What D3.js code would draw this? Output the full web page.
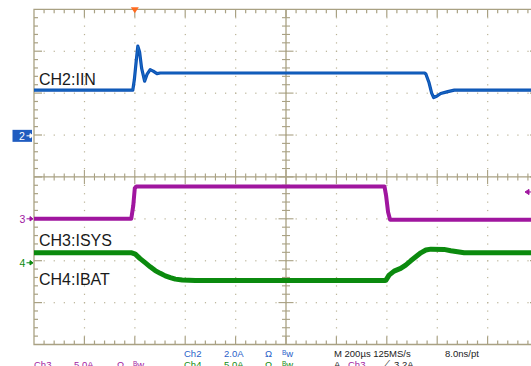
<!DOCTYPE html>
<html>
<head>
<meta charset="utf-8">
<script src="https://cdn.jsdelivr.net/npm/d3@7/dist/d3.min.js"></script>
<style>
  html, body { margin: 0; padding: 0; background: #fff; }
  svg { display: block; }
  text { font-family: "Liberation Sans", Arial, sans-serif; }
</style>
</head>
<body>
<svg id="scope" width="531" height="366"></svg>
<script>
// Time axis: 200 µs/div, trigger at t = 0
const timeTicks = [-400, -200, 0, 200, 400, 600, 800, 1000, 1200, 1400, 1600];

// CH2: input current IIN (A)
const ch2Time = [-400, -8, -2, 6, 12, 19, 27, 39, 49, 61, 73, 88, 101, 1150, 1155, 1167, 1178, 1186, 1198, 1214, 1242, 1268, 1600];
const ch2Amps = [2.18, 2.18, 2.66, 3.61, 4.28, 4.0, 3.23, 2.61, 2.95, 3.16, 3.09, 2.97, 3.0, 3.0, 2.95, 2.56, 2.04, 1.83, 1.89, 2.02, 2.11, 2.18, 2.18];

// CH3: system current ISYS (A)
const ch3Time = [-400, -14, -6, 0, 6, 991, 997, 1005, 1013, 1600];
const ch3Amps = [0.0, 0.0, 1.6, 3.66, 3.85, 3.85, 2.8, 0.8, -0.12, -0.12];

// CH4: battery current IBAT (A)
const ch4Time = [-400, -12, 2, 21, 41, 61, 81, 101, 121, 141, 161, 188, 240, 992, 996, 1009, 1029, 1055, 1075, 1095, 1115, 1135, 1155, 1175, 1227, 1254, 1307, 1600];
const ch4Amps = [1.19, 1.19, 1.04, 0.5, 0.02, -0.48, -0.93, -1.26, -1.56, -1.77, -1.95, -2.06, -2.12, -2.12, -2.1, -1.47, -0.99, -0.67, -0.27, 0.24, 0.72, 1.19, 1.52, 1.63, 1.6, 1.43, 1.19, 1.19];

// Channel labels and settings
const channelNames = ["CH2:IIN", "CH3:ISYS", "CH4:IBAT"];
const channelIds = ["2", "3", "4"];
const channelAmpsPerDiv = [2.0, 5.0, 5.0];
const triggerLevel = 3.2; // A, on Ch3, rising

// ---- layout ----
const gLeft = 34, gTop = 9.3, divW = 50.4, divH = 41.9;
const nx = 10, ny = 8;
const gRight = gLeft + nx * divW, gBottom = gTop + ny * divH;
const cx = gLeft + 5 * divW, cy = gTop + 4 * divH;
const gridCol = "#a9a183", dotCol = "#b9b296";

// ground marker offsets in divisions above centre
const groundDiv = [0.98, -1.0, -2.05];
const colors = ["#0a50b4", "#a0169f", "#0b8a0e"];
const widths = [3.2, 4.0, 5.0];

const svg = d3.select("#scope");

const x = d3.scaleLinear().domain([timeTicks[0], timeTicks[timeTicks.length - 1]]).range([gLeft, gRight]);
const yScale = (i) => {
  const v = channelAmpsPerDiv[i], g = groundDiv[i];
  return d3.scaleLinear().domain([-(4 + g) * v, (4 - g) * v]).range([gBottom, gTop]);
};

// ---- graticule ----
const grid = svg.append("g");
// dotted division lines
for (let i = 1; i < nx; i++) {
  if (i === 5) continue;
  const gx = gLeft + i * divW;
  for (let k = 1; k < ny * 5; k++) {
    grid.append("rect").attr("x", gx - 0.5).attr("y", gTop + k * divH / 5 - 0.5)
      .attr("width", 1.2).attr("height", 1.2).attr("fill", dotCol);
  }
}
for (let j = 1; j < ny; j++) {
  if (j === 4) continue;
  const gy = gTop + j * divH;
  for (let k = 1; k < nx * 5; k++) {
    grid.append("rect").attr("x", gLeft + k * divW / 5 - 0.5).attr("y", gy - 0.5)
      .attr("width", 1.2).attr("height", 1.2).attr("fill", dotCol);
  }
}
// frame
grid.append("path")
  .attr("d", `M${gRight},${gTop}H${gLeft}V${gBottom}H${gRight}V${gTop}`)
  .attr("fill", "none").attr("stroke", gridCol).attr("stroke-width", 1.3);
// centre cross
grid.append("line").attr("x1", cx).attr("x2", cx).attr("y1", gTop).attr("y2", gBottom)
  .attr("stroke", gridCol).attr("stroke-width", 1.3);
grid.append("line").attr("x1", gLeft).attr("x2", gRight).attr("y1", cy).attr("y2", cy)
  .attr("stroke", gridCol).attr("stroke-width", 1.3);
// ticks along frame and centre cross
for (let k = 1; k < nx * 5; k++) {
  const tx = gLeft + k * divW / 5;
  const major = k % 5 === 0;
  const L = major ? 8 : 4;
  grid.append("line").attr("x1", tx).attr("x2", tx).attr("y1", gTop).attr("y2", gTop + L)
    .attr("stroke", gridCol).attr("stroke-width", 1.2);
  grid.append("line").attr("x1", tx).attr("x2", tx).attr("y1", gBottom).attr("y2", gBottom - L)
    .attr("stroke", gridCol).attr("stroke-width", 1.2);
  const c = major ? 7 : 3.5;
  grid.append("line").attr("x1", tx).attr("x2", tx).attr("y1", cy - c).attr("y2", cy + c)
    .attr("stroke", gridCol).attr("stroke-width", 1.1);
}
for (let k = 1; k < ny * 5; k++) {
  const ty = gTop + k * divH / 5;
  const major = k % 5 === 0;
  const L = major ? 8 : 4;
  grid.append("line").attr("x1", gLeft).attr("x2", gLeft + L).attr("y1", ty).attr("y2", ty)
    .attr("stroke", gridCol).attr("stroke-width", 1.2);
  grid.append("line").attr("x1", gRight).attr("x2", gRight - L).attr("y1", ty).attr("y2", ty)
    .attr("stroke", gridCol).attr("stroke-width", 1.2);
  const c = major ? 7.5 : 4;
  grid.append("line").attr("x1", cx - c).attr("x2", cx + c).attr("y1", ty).attr("y2", ty)
    .attr("stroke", gridCol).attr("stroke-width", 1.1);
}

// ---- traces ----
const series = [
  d3.zip(ch2Time, ch2Amps),
  d3.zip(ch3Time, ch3Amps),
  d3.zip(ch4Time, ch4Amps)
];
const traces = svg.append("g");
series.forEach((pts, i) => {
  const y = yScale(i);
  const line = d3.line().x(d => x(d[0])).y(d => y(d[1]));
  traces.append("path").datum(pts).attr("d", line)
    .attr("fill", "none").attr("stroke", colors[i]).attr("stroke-width", widths[i])
    .attr("stroke-linejoin", "round");
});
// light highlight inside the Ch2 trace
{
  const y = yScale(0);
  traces.append("path").datum(series[0])
    .attr("d", d3.line().x(d => x(d[0])).y(d => y(d[1])))
    .attr("fill", "none").attr("stroke", "#2f8fd6").attr("stroke-width", 0.8)
    .attr("stroke-opacity", 0.55);
}

// ---- channel name labels ----
const labelY = [85, 246, 285];
channelNames.forEach((n, i) => {
  svg.append("text").attr("x", 39).attr("y", labelY[i])
    .attr("font-size", 16).attr("fill", "#1a1a1a").text(n);
});

// ---- ground markers ----
channelIds.forEach((id, i) => {
  const gy = yScale(i)(0);
  if (i === 0) {
    svg.append("rect").attr("x", 12.5).attr("y", gy - 6).attr("width", 19.5).attr("height", 12)
      .attr("fill", "#1f5cc0");
    svg.append("text").attr("x", 19).attr("y", gy + 3.8).attr("font-size", 10.5)
      .attr("fill", "#fff").text(id);
    svg.append("path").attr("d", `M26.5,${gy}H32.5M30,${gy - 2.2}L33,${gy}L30,${gy + 2.2}Z`)
      .attr("stroke", "#fff").attr("fill", "#fff").attr("stroke-width", 1);
  } else {
    svg.append("text").attr("x", 19.5).attr("y", gy + 3.8).attr("font-size", 10.5)
      .attr("fill", colors[i]).text(id);
    svg.append("path").attr("d", `M26.5,${gy}H32.5M30,${gy - 2.2}L33,${gy}L30,${gy + 2.2}Z`)
      .attr("stroke", colors[i]).attr("fill", colors[i]).attr("stroke-width", 1);
  }
});

// ---- trigger position and level markers ----
const tx0 = x(0);
svg.append("path").attr("d", `M${tx0 - 4},${gTop - 2}L${tx0 + 4},${gTop - 2}L${tx0},${gTop + 4}Z`)
  .attr("fill", "#ff6a1e");
const tly = yScale(1)(triggerLevel);
svg.append("path").attr("d", `M525,${tly}L529,${tly - 2.6}L529,${tly + 2.6}Z M527,${tly}H531`)
  .attr("fill", colors[1]).attr("stroke", colors[1]).attr("stroke-width", 1);

// ---- readout ----
const fs = 9.5;
const ro = svg.append("g").attr("font-size", fs);
function bw(xp, yp, col) {
  const t = ro.append("text").attr("x", xp).attr("y", yp).attr("fill", col);
  t.append("tspan").attr("font-size", 6.5).attr("dy", -2.5).text("B");
  t.append("tspan").attr("dy", 2.5).text("w");
}
const r1 = 357, r2 = 368;
const c2 = "#2a62c9", c3 = "#a21ba2", c4 = "#138a13", ck = "#222";
ro.append("text").attr("x", 184).attr("y", r1).attr("fill", c2).text("Ch2");
ro.append("text").attr("x", 224).attr("y", r1).attr("fill", c2).text(channelAmpsPerDiv[0].toFixed(1) + "A");
ro.append("text").attr("x", 265).attr("y", r1).attr("fill", c2).text("Ω");
bw(282, r1, c2);
ro.append("text").attr("x", 334).attr("y", r1).attr("fill", ck).text("M 200µs 125MS/s");
ro.append("text").attr("x", 445).attr("y", r1).attr("fill", ck).text("8.0ns/pt");

ro.append("text").attr("x", 34).attr("y", r2).attr("fill", c3).text("Ch3");
ro.append("text").attr("x", 74).attr("y", r2).attr("fill", c3).text(channelAmpsPerDiv[1].toFixed(1) + "A");
ro.append("text").attr("x", 117).attr("y", r2).attr("fill", c3).text("Ω");
bw(133, r2, c3);
ro.append("text").attr("x", 184).attr("y", r2).attr("fill", c4).text("Ch4");
ro.append("text").attr("x", 224).attr("y", r2).attr("fill", c4).text(channelAmpsPerDiv[2].toFixed(1) + "A");
ro.append("text").attr("x", 265).attr("y", r2).attr("fill", c4).text("Ω");
bw(282, r2, c4);
ro.append("text").attr("x", 334).attr("y", r2).attr("fill", ck).text("A");
ro.append("text").attr("x", 348).attr("y", r2).attr("fill", c3).text("Ch3");
ro.append("text").attr("x", 383).attr("y", r2).attr("fill", ck).text("⟋");
ro.append("text").attr("x", 394).attr("y", r2).attr("fill", ck).text(triggerLevel.toFixed(1) + "A");
</script>
</body>
</html>
